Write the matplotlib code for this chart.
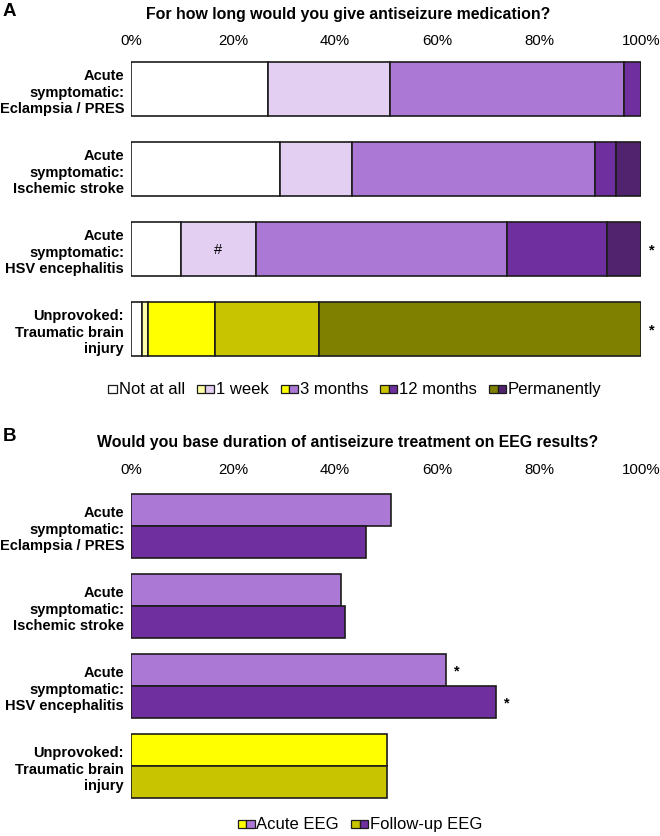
import matplotlib
matplotlib.use('Agg')
import matplotlib.pyplot as plt
from matplotlib.patches import Rectangle

plt.rcParams['font.family'] = ['Liberation Sans', 'DejaVu Sans']

# ---------------- data ----------------
categories = ["Acute\nsymptomatic:\nEclampsia / PRES",
              "Acute\nsymptomatic:\nIschemic stroke",
              "Acute\nsymptomatic:\nHSV encephalitis",
              "Unprovoked:\nTraumatic brain\ninjury"]
duration_labels = ["Not at all", "1 week", "3 months", "12 months", "Permanently"]
not_at_all    = [26.9, 29.3, 9.8, 2.2]
one_week      = [23.8, 14.1, 14.7, 1.1]
three_months  = [46.0, 47.5, 49.2, 13.2]
twelve_months = [3.3, 4.1, 19.7, 20.4]
permanently   = [0.0, 5.0, 6.6, 63.1]
sig_a         = ["", "", "*", "*"]
hash_a        = ["", "", "#", ""]

eeg_labels    = ["Acute EEG", "Follow-up EEG"]
acute_eeg     = [51.0, 41.2, 61.7, 50.1]
followup_eeg  = [46.1, 42.0, 71.5, 50.1]
sig_acute     = ["", "", "*", ""]
sig_followup  = ["", "", "*", ""]

tick_values = [0, 20, 40, 60, 80, 100]
tick_labels = ["0%", "20%", "40%", "60%", "80%", "100%"]

title_a = "For how long would you give antiseizure medication?"
title_b = "Would you base duration of antiseizure treatment on EEG results?"

# ---------------- style ----------------
purple_cols = ['#FFFFFF', '#E2CFF1', '#AB78D5', '#6F2F9F', '#51236E']
yellow_cols = ['#FFFFFF', '#FFFFA6', '#FFFF00', '#C8C400', '#808000']
row_is_yellow = [False, False, False, True]
edge = '#1c1c1c'
lw = 1.2

W, H = 660, 837
fig = plt.figure(figsize=(W / 100, H / 100), dpi=100)

def fx(px):
    return px / W

def fy(py):
    return 1 - py / H

axA = fig.add_axes([fx(131), fy(370), fx(510), 320 / H])
axB = fig.add_axes([fx(131), fy(807), fx(510), 320 / H])

# ---------------- panel A ----------------
segments = [not_at_all, one_week, three_months, twelve_months, permanently]
ys = list(range(len(categories)))
lefts = [0.0] * len(categories)
for j, seg in enumerate(segments):
    cols = [(yellow_cols if row_is_yellow[i] else purple_cols)[j] for i in ys]
    axA.barh(ys, seg, left=lefts, height=0.675, color=cols,
             edgecolor=edge, linewidth=lw)
    for i in ys:
        if j == 1 and hash_a[i]:
            axA.text(lefts[i] + seg[i] / 2, i, hash_a[i], ha='center',
                     va='center', fontsize=10.5)
    lefts = [l + v for l, v in zip(lefts, seg)]
for i in ys:
    if sig_a[i]:
        axA.text(lefts[i] + 2.2, i, sig_a[i], ha='center', va='center',
                 fontsize=10.5, fontweight='bold', clip_on=False)

# ---------------- panel B ----------------
yA = [y - 0.2 for y in ys]
yF = [y + 0.2 for y in ys]
colsA = [yellow_cols[2] if row_is_yellow[i] else purple_cols[2] for i in ys]
colsF = [yellow_cols[3] if row_is_yellow[i] else purple_cols[3] for i in ys]
axB.barh(yA, acute_eeg, height=0.4, color=colsA, edgecolor=edge, linewidth=lw)
axB.barh(yF, followup_eeg, height=0.4, color=colsF, edgecolor=edge, linewidth=lw)
for i in ys:
    if sig_acute[i]:
        axB.text(acute_eeg[i] + 2.2, yA[i], sig_acute[i], ha='center',
                 va='center', fontsize=10.5, fontweight='bold', clip_on=False)
    if sig_followup[i]:
        axB.text(followup_eeg[i] + 2.2, yF[i], sig_followup[i], ha='center',
                 va='center', fontsize=10.5, fontweight='bold', clip_on=False)

for ax, pad in ((axA, 1.5), (axB, 7.5)):
    ax.set_xlim(0, 100)
    ax.set_ylim(3.5, -0.5)
    ax.xaxis.tick_top()
    ax.set_xticks(tick_values)
    ax.set_xticklabels(tick_labels, fontsize=10.8)
    ax.tick_params(axis='x', length=0, pad=pad)
    ax.set_yticks(ys)
    ax.set_yticklabels(categories, fontsize=10.5, fontweight='bold')
    ax.tick_params(axis='y', length=0, pad=5)
    for s in ax.spines.values():
        s.set_visible(False)
    ax.set_facecolor('none')

# ---------------- titles ----------------
fig.text(fx(348), fy(15), title_a, ha='center', va='center',
         fontsize=11.4, fontweight='bold')
fig.text(fx(348), fy(443), title_b, ha='center', va='center',
         fontsize=11.4, fontweight='bold')
fig.text(fx(3), fy(11), "A", ha='left', va='center', fontsize=13.5,
         fontweight='bold')
fig.text(fx(3), fy(437), "B", ha='left', va='center', fontsize=13.5,
         fontweight='bold')

# ---------------- legends ----------------
fig.canvas.draw()
renderer = fig.canvas.get_renderer()

def draw_legend(items, center_px, y_px, fs=12, sq=8.5, tgap=2, cgap=12):
    widths = []
    texts = []
    for cols, lab in items:
        t = fig.text(0, 0, lab, fontsize=fs, ha='left', va='center')
        bb = t.get_window_extent(renderer)
        texts.append(t)
        widths.append(len(cols) * sq + tgap + bb.width)
    total = sum(widths) + cgap * (len(items) - 1)
    x = center_px - total / 2
    for (cols, lab), t, w in zip(items, texts, widths):
        for k, c in enumerate(cols):
            fig.patches.append(Rectangle((fx(x + k * sq), fy(y_px + sq / 2)),
                                         sq / W, sq / H, facecolor=c,
                                         edgecolor=edge, linewidth=0.9,
                                         transform=fig.transFigure,
                                         figure=fig))
        t.set_position((fx(x + len(cols) * sq + tgap), fy(y_px)))
        x += w + cgap

legA = [([purple_cols[0]], duration_labels[0])] + \
       [([yellow_cols[j], purple_cols[j]], duration_labels[j]) for j in range(1, 5)]
draw_legend(legA, 355, 390)
legB = [([yellow_cols[2], purple_cols[2]], eeg_labels[0]),
        ([yellow_cols[3], purple_cols[3]], eeg_labels[1])]
draw_legend(legB, 360, 825)

fig.savefig('out.png', dpi=100)
